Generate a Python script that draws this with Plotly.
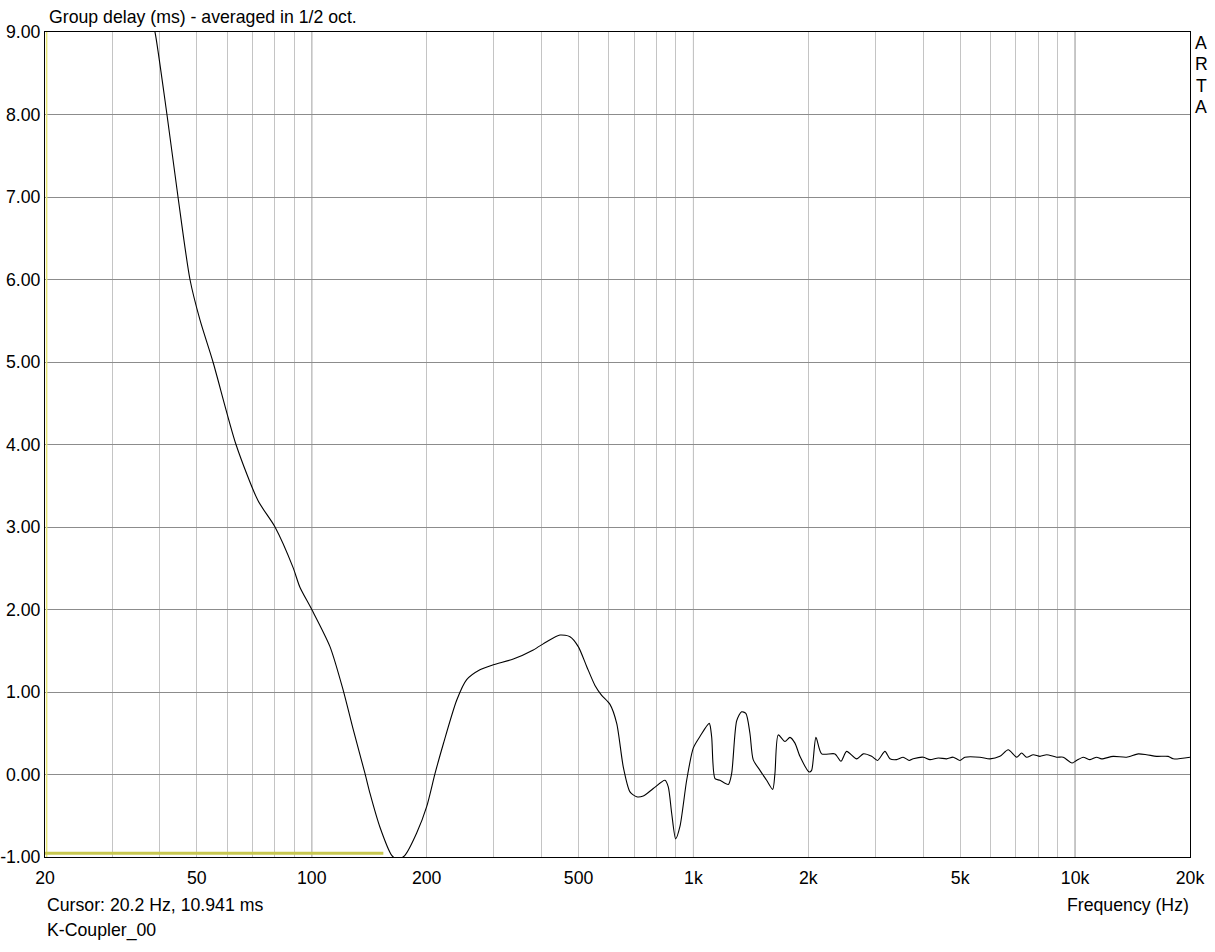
import plotly.graph_objects as go

# Group delay curve (frequency in Hz, delay in ms)
freq_hz = [
    38.5, 38.83, 41.74, 44.62, 47.96, 50.94, 55.11, 63.31, 72.28, 80.11, 89.3, 93.1, 100.0,
    111.6, 120.9, 128.5, 137.9, 142.1, 150.9, 162.0, 168.2, 175.4, 188.3, 200.0, 210.3,
    221.1, 239.7, 254.6, 275.8, 298.9, 337.3, 380.5, 412.6, 447.0, 474.8, 499.2, 525.1,
    552.1, 574.9, 604.4, 629.4, 655.0, 681.9, 710.1, 738.8, 784.9, 842.1, 859.1, 876.9,
    898.3, 921.9, 960.0, 998.9, 1040, 1100, 1116, 1139, 1173, 1234, 1259, 1298, 1337,
    1372, 1406, 1434, 1494, 1555, 1613, 1635, 1668, 1737, 1790, 1845, 1901, 2011, 2040,
    2094, 2167, 2349, 2435, 2520, 2677, 2786, 2930, 3037, 3175, 3272, 3406, 3544, 3675,
    3765, 4000, 4166, 4380, 4607, 4794, 4992, 5144, 5631, 5983, 6353, 6680, 7027, 7242,
    7464, 7768, 8089, 8421, 8945, 9308, 9808, 10090, 10500, 10940, 11390, 11730, 12580,
    13640, 14630, 15390, 16350, 17530, 18070, 20000,
]
delay_ms = [
    9.05, 9.00, 8.00, 7.00, 6.00, 5.51, 5.00, 4.00, 3.32, 3.00, 2.51, 2.27, 2.00,
    1.55, 1.02, 0.54, 0.01, -0.23, -0.64, -0.98, -1.03, -0.98, -0.71, -0.39, 0.01,
    0.37, 0.90, 1.15, 1.27, 1.33, 1.40, 1.51, 1.61, 1.69, 1.67, 1.55, 1.31,
    1.08, 0.96, 0.85, 0.62, 0.09, -0.21, -0.27, -0.26, -0.17, -0.07, -0.15, -0.47,
    -0.78, -0.63, -0.07, 0.32, 0.46, 0.62, 0.46, -0.05, -0.07, -0.12, 0.01, 0.65, 0.76,
    0.74, 0.50, 0.18, 0.05, -0.07, -0.18, 0.01, 0.48, 0.40, 0.45, 0.38, 0.22, 0.03, 0.05,
    0.45, 0.25, 0.25, 0.16, 0.28, 0.19, 0.25, 0.22, 0.17, 0.28, 0.19, 0.18, 0.21, 0.17,
    0.19, 0.21, 0.18, 0.20, 0.19, 0.21, 0.17, 0.21, 0.21, 0.19, 0.22, 0.30, 0.21, 0.26,
    0.21, 0.24, 0.22, 0.24, 0.21, 0.21, 0.14, 0.17, 0.21, 0.18, 0.21, 0.19, 0.22,
    0.21, 0.25, 0.24, 0.22, 0.22, 0.19, 0.21,
]

# Cursor markers
cursor_freq = 20.2
cursor_line_y = -0.955
cursor_line_end = 154.0

x_tick_vals = [20, 50, 100, 200, 500, 1000, 2000, 5000, 10000, 20000]
x_tick_text = ["20", "50", "100", "200", "500", "1k", "2k", "5k", "10k", "20k"]
x_grid_vals = [20, 30, 40, 50, 60, 70, 80, 90,
               200, 300, 400, 500, 600, 700, 800, 900,
               2000, 3000, 4000, 5000, 6000, 7000, 8000, 9000, 20000]
x_decades = [100, 1000, 10000]
y_tick_vals = [-1, 0, 1, 2, 3, 4, 5, 6, 7, 8, 9]
y_tick_text = ["-1.00", "0.00", "1.00", "2.00", "3.00", "4.00", "5.00",
               "6.00", "7.00", "8.00", "9.00"]

FONT = "Liberation Sans, Arial, sans-serif"
FS = 17.7

fig = go.Figure()

# cursor lines
fig.add_trace(go.Scatter(x=[cursor_freq, cursor_freq], y=[-1, 9], mode="lines",
                         line=dict(color="#e6e67a", width=1.5), hoverinfo="skip",
                         showlegend=False))
fig.add_trace(go.Scatter(x=[20, cursor_line_end], y=[cursor_line_y, cursor_line_y],
                         mode="lines", line=dict(color="#c8c850", width=3),
                         hoverinfo="skip", showlegend=False))

fig.add_trace(go.Scatter(x=freq_hz, y=delay_ms, mode="lines",
                         line=dict(color="black", width=1.1, shape="spline", smoothing=0.7),
                         showlegend=False, cliponaxis=True))

for d in x_decades:
    fig.add_shape(type="line", xref="x", yref="paper", x0=d, x1=d, y0=0, y1=1,
                  line=dict(color="#777777", width=1), layer="between")

all_x = x_grid_vals + x_decades
all_text = [x_tick_text[x_tick_vals.index(v)] if v in x_tick_vals else "" for v in all_x]

fig.update_xaxes(
    type="log", range=[1.30103, 4.30103],
    tickmode="array", tickvals=all_x, ticktext=all_text,
    showgrid=True, gridcolor="#c4c4c4", gridwidth=1,
    showline=True, linecolor="black", linewidth=1, mirror=True,
    ticks="", tickfont=dict(family=FONT, size=FS, color="black"),
    zeroline=False, automargin=False, ticklabelstandoff=5,
)
fig.update_yaxes(
    range=[-1, 9], tickmode="array", tickvals=y_tick_vals, ticktext=y_tick_text,
    showgrid=True, gridcolor="#8c8c8c", gridwidth=1,
    showline=True, linecolor="black", linewidth=1, mirror=True,
    ticks="", tickfont=dict(family=FONT, size=FS, color="black"),
    zeroline=False, automargin=False,
)

annos = [
    dict(text="Group delay (ms) - averaged in 1/2 oct.", x=47, y=17, xanchor="left"),
    dict(text="Cursor: 20.2 Hz, 10.941 ms", x=45, y=905, xanchor="left"),
    dict(text="K-Coupler_00", x=45, y=931, xanchor="left"),
    dict(text="Frequency (Hz)", x=1191, y=905, xanchor="right"),
]
for a in annos:
    fig.add_annotation(text=a["text"], xref="paper", yref="paper",
                       x=(a["x"] - 45) / (1190 - 45), y=(857 - a["y"]) / (857 - 32),
                       xanchor=a["xanchor"], yanchor="middle", showarrow=False,
                       font=dict(family=FONT, size=FS, color="black"))
for i, ch in enumerate("ARTA"):
    fig.add_annotation(text=ch, xref="paper", yref="paper",
                       x=(1201 - 45) / (1190 - 45), y=(857 - (43 + i * 21.3)) / (857 - 32),
                       xanchor="center", yanchor="middle", showarrow=False,
                       font=dict(family=FONT, size=FS, color="black"))

fig.update_layout(
    width=1215, height=952,
    margin=dict(l=45, r=25, t=32, b=95, autoexpand=False),
    paper_bgcolor="white", plot_bgcolor="white",
    showlegend=False,
)

fig.write_html("out.html", config={"displayModeBar": False},
               post_script="document.body.style.margin='0';document.body.style.padding='0';")
